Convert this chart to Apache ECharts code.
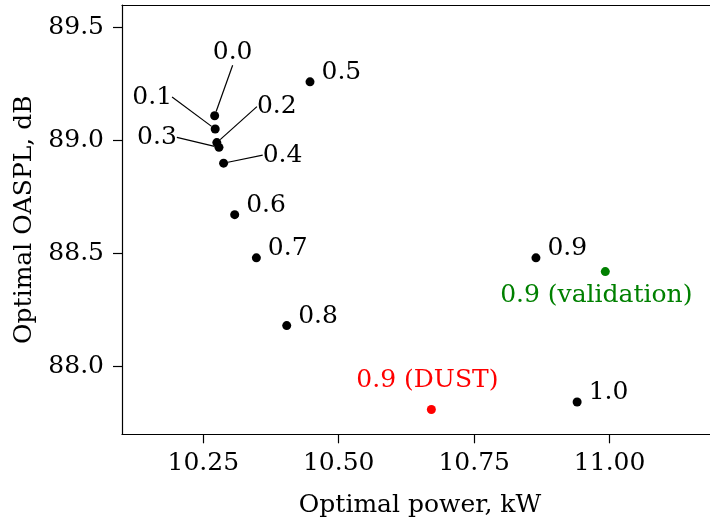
<!DOCTYPE html>
<html>
<head>
<meta charset="utf-8">
<script src="https://cdn.jsdelivr.net/npm/echarts@6/dist/echarts.min.js"></script>
<style>
  html, body { margin: 0; padding: 0; background: #fff; }
  #chart { width: 710px; height: 521px; }
</style>
</head>
<body>
<div id="chart"></div>
<script>
// Optimal design points: power (kW) vs. OASPL (dB), labelled by weight factor
const weightLabels = ['0.0', '0.1', '0.2', '0.3', '0.4', '0.5', '0.6', '0.7', '0.8', '0.9', '1.0'];
const powerKW = [10.271, 10.272, 10.275, 10.279, 10.2875, 10.447, 10.308, 10.348, 10.404, 10.864, 10.940];
const oasplDB = [89.110, 89.051, 88.991, 88.970, 88.900, 89.260, 88.672, 88.481, 88.181, 88.481, 87.843];

// Extra runs for weight 0.9
const validationLabel = '0.9 (validation)';
const validationPoint = [10.992, 88.420];
const dustLabel = '0.9 (DUST)';
const dustPoint = [10.671, 87.810];

// Axis ticks
const xTicks = [10.25, 10.50, 10.75, 11.00];
const yTicks = [88.0, 88.5, 89.0, 89.5];

const FONT = 'DejaVu Serif';
const FS = 25;

// The first five points sit in a tight cluster, so their labels are
// pulled away and tied back with leader lines (pixel offsets).
const clusterCount = 5;
const clusterOffsets = [
  [18, -63],
  [-63, -32],
  [60, -36],
  [-62, -10],
  [59, -8]
];

const clusterData = [];
const plainData = [];
weightLabels.forEach((lab, i) => {
  const item = { value: [powerKW[i], oasplDB[i]], name: lab };
  if (i < clusterCount) clusterData.push(item); else plainData.push(item);
});

const chart = echarts.init(document.getElementById('chart'), null, { renderer: 'canvas' });

const dotStyle = { color: '#000', opacity: 1 };
const labelText = { fontFamily: FONT, fontSize: FS, color: '#000', opacity: 1 };
const spine = { color: '#000', width: 1.2 };

chart.setOption({
  animation: false,
  backgroundColor: '#fff',
  textStyle: { fontFamily: FONT },
  grid: {
    left: 122, top: 5, width: 596, height: 429.3,
    outerBoundsMode: 'none', containLabel: false
  },
  xAxis: [
    {
      type: 'value', min: 10.1, max: 11.2, position: 'bottom',
      name: 'Optimal power, kW', nameLocation: 'middle', nameGap: 59,
      nameTextStyle: { fontFamily: FONT, fontSize: FS, color: '#000' },
      axisLine: { show: true, onZero: false, lineStyle: spine },
      axisTick: { show: true, inside: false, length: 9, customValues: xTicks, lineStyle: spine },
      axisLabel: {
        customValues: xTicks, margin: 17, fontFamily: FONT, fontSize: FS, color: '#000',
        formatter: v => v.toFixed(2)
      },
      splitLine: { show: false }
    },
    {
      // top frame line
      type: 'value', min: 10.1, max: 11.2, position: 'top',
      axisLine: { show: true, onZero: false, lineStyle: spine },
      axisTick: { show: false }, axisLabel: { show: false }, splitLine: { show: false }
    }
  ],
  yAxis: {
    type: 'value', min: 87.7, max: 89.6,
    name: 'Optimal OASPL, dB', nameLocation: 'middle', nameGap: 85, nameRotate: 90,
    nameTextStyle: { fontFamily: FONT, fontSize: FS, color: '#000' },
    axisLine: { show: true, onZero: false, lineStyle: spine },
    axisTick: { show: true, inside: false, length: 9, customValues: yTicks, lineStyle: spine },
    axisLabel: {
      customValues: yTicks, margin: 18, fontFamily: FONT, fontSize: FS, color: '#000',
      formatter: v => v.toFixed(1)
    },
    splitLine: { show: false }
  },
  series: [
    {
      name: 'cluster',
      type: 'scatter',
      symbolSize: 9,
      itemStyle: dotStyle,
      data: clusterData,
      label: {
        show: true, position: 'inside', formatter: p => p.name,
        padding: [9, 11], ...labelText
      },
      labelLine: { show: true, lineStyle: { color: '#000', width: 1.2, opacity: 1 } },
      labelLayout: p => ({ dx: clusterOffsets[p.dataIndex][0], dy: clusterOffsets[p.dataIndex][1] })
    },
    {
      name: 'weights',
      type: 'scatter',
      symbolSize: 9,
      itemStyle: dotStyle,
      data: plainData,
      label: {
        show: true, position: 'right', distance: 7, offset: [0, -9],
        formatter: p => p.name, ...labelText
      }
    },
    {
      name: 'validation',
      type: 'scatter',
      symbolSize: 9,
      itemStyle: { color: '#008000', opacity: 1 },
      data: [{ value: validationPoint, name: validationLabel }],
      label: {
        show: true, position: 'inside', offset: [-9, 24],
        formatter: p => p.name, fontFamily: FONT, fontSize: FS, color: '#008000', opacity: 1
      }
    },
    {
      name: 'dust',
      type: 'scatter',
      symbolSize: 9,
      itemStyle: { color: '#ff0000', opacity: 1 },
      data: [{ value: dustPoint, name: dustLabel }],
      label: {
        show: true, position: 'inside', offset: [-4, -29],
        formatter: p => p.name, fontFamily: FONT, fontSize: FS, color: '#ff0000', opacity: 1
      }
    }
  ]
});
</script>
</body>
</html>
